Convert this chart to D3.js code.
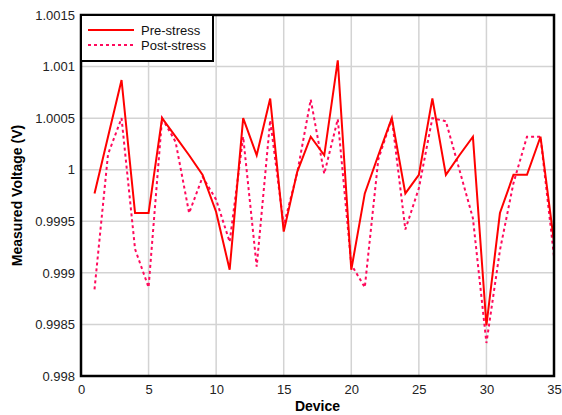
<!DOCTYPE html>
<html>
<head>
<meta charset="utf-8">
<script src="https://cdn.jsdelivr.net/npm/d3@7"></script>
<style>
  body { margin: 0; background: #fff; }
  text { font-family: Arial, "Liberation Sans", sans-serif; }
</style>
</head>
<body>
<div id="chart"></div>
<script>
// device numbers 1..35
const devices = d3.range(1, 36);

const preStress = [
  0.99977, 1.00032, 1.00087, 0.99958, 0.99958, 1.0005, 1.00032, 1.00014, 0.99995, 0.99959,
  0.99903, 1.0005, 1.00014, 1.00069, 0.9994, 0.99998, 1.00032, 1.00014, 1.00106, 0.99903,
  0.99977, 1.00014, 1.0005, 0.99977, 0.99995, 1.00069, 0.99995, 1.00014, 1.00032, 0.99849,
  0.99958, 0.99995, 0.99995, 1.00032, 0.9993
];

const postStress = [
  0.99884, 1.00015, 1.0005, 0.99923, 0.99886, 1.0005, 1.00027, 0.99958, 0.99993, 0.99971,
  0.9993, 1.00032, 0.99906, 1.00048, 0.99946, 0.99997, 1.00068, 0.99996, 1.00049, 0.99908,
  0.99886, 1.0001, 1.0005, 0.99942, 0.99982, 1.0005, 1.00047, 1.0, 0.99953, 0.99832,
  0.99922, 0.99987, 1.00032, 1.00032, 0.99916
];

const xTicks = [0, 5, 10, 15, 20, 25, 30, 35];
const yTicks = [0.998, 0.9985, 0.999, 0.9995, 1, 1.0005, 1.001, 1.0015];
const yTickLabels = ["0.998", "0.9985", "0.999", "0.9995", "1", "1.0005", "1.001", "1.0015"];

const series = [
  {name: "Pre-stress", values: preStress, color: "#ff0000", dash: null},
  {name: "Post-stress", values: postStress, color: "#ff0a5c", dash: "3,3"}
];

const width = 562, height = 415;
const margin = {top: 15, right: 8, bottom: 39, left: 81};

const svg = d3.select("#chart").append("svg")
    .attr("width", width)
    .attr("height", height);

const x = d3.scaleLinear().domain([0, 35]).range([margin.left, width - margin.right]);
const y = d3.scaleLinear().domain([0.998, 1.0015]).range([height - margin.bottom, margin.top]);

// grid
svg.append("g")
    .attr("stroke", "#d3d3d3")
    .attr("stroke-width", 1.5)
  .selectAll("line.v")
  .data(xTicks.slice(1, -1))
  .join("line")
    .attr("x1", d => x(d)).attr("x2", d => x(d))
    .attr("y1", margin.top).attr("y2", height - margin.bottom);

svg.append("g")
    .attr("stroke", "#d3d3d3")
    .attr("stroke-width", 1.5)
  .selectAll("line.h")
  .data(yTicks.slice(1, -1))
  .join("line")
    .attr("x1", margin.left).attr("x2", width - margin.right)
    .attr("y1", d => y(d)).attr("y2", d => y(d));

// axes (labels only)
const xAxis = svg.append("g")
    .attr("transform", `translate(0,${height - margin.bottom})`)
    .call(d3.axisBottom(x).tickValues(xTicks).tickSize(0).tickPadding(9));
const yAxis = svg.append("g")
    .attr("transform", `translate(${margin.left},0)`)
    .call(d3.axisLeft(y).tickValues(yTicks).tickSize(0).tickPadding(6)
      .tickFormat((d, i) => yTickLabels[i]));

for (const ax of [xAxis, yAxis]) {
  ax.select(".domain").remove();
  ax.selectAll("text")
    .attr("font-size", 13)
    .attr("fill", "#222")
    .style("font-family", "Arial, 'Liberation Sans', sans-serif");
}

// lines
const line = d3.line()
    .x((d, i) => x(devices[i]))
    .y(d => y(d));

svg.append("g")
    .attr("fill", "none")
  .selectAll("path")
  .data(series.slice().reverse())
  .join("path")
    .attr("stroke", d => d.color)
    .attr("stroke-width", 2)
    .attr("stroke-dasharray", d => d.dash)
    .attr("stroke-linejoin", "miter")
    .attr("d", d => line(d.values));

// frame
svg.append("rect")
    .attr("x", margin.left)
    .attr("y", margin.top)
    .attr("width", width - margin.left - margin.right)
    .attr("height", height - margin.top - margin.bottom)
    .attr("fill", "none")
    .attr("stroke", "#000")
    .attr("stroke-width", 2.5);

// legend
const legend = svg.append("g");
legend.append("rect")
    .attr("x", margin.left)
    .attr("y", margin.top)
    .attr("width", 132)
    .attr("height", 46)
    .attr("fill", "#fff")
    .attr("stroke", "#000")
    .attr("stroke-width", 2);

const item = legend.selectAll("g")
  .data(series)
  .join("g")
    .attr("transform", (d, i) => `translate(${margin.left},${margin.top + 15 + i * 15})`);
item.append("line")
    .attr("x1", 7).attr("x2", 53)
    .attr("stroke", d => d.color)
    .attr("stroke-width", 2)
    .attr("stroke-dasharray", d => d.dash);
item.append("text")
    .attr("x", 60)
    .attr("dy", "0.36em")
    .attr("font-size", 13)
    .attr("fill", "#111")
    .text(d => d.name);

// axis titles
svg.append("text")
    .attr("x", (margin.left + width - margin.right) / 2)
    .attr("y", 411)
    .attr("text-anchor", "middle")
    .attr("font-size", 14)
    .attr("font-weight", "bold")
    .text("Device");

svg.append("text")
    .attr("transform", `translate(22,${(margin.top + height - margin.bottom) / 2}) rotate(-90)`)
    .attr("text-anchor", "middle")
    .attr("font-size", 14)
    .attr("font-weight", "bold")
    .text("Measured Voltage (V)");
</script>
</body>
</html>
